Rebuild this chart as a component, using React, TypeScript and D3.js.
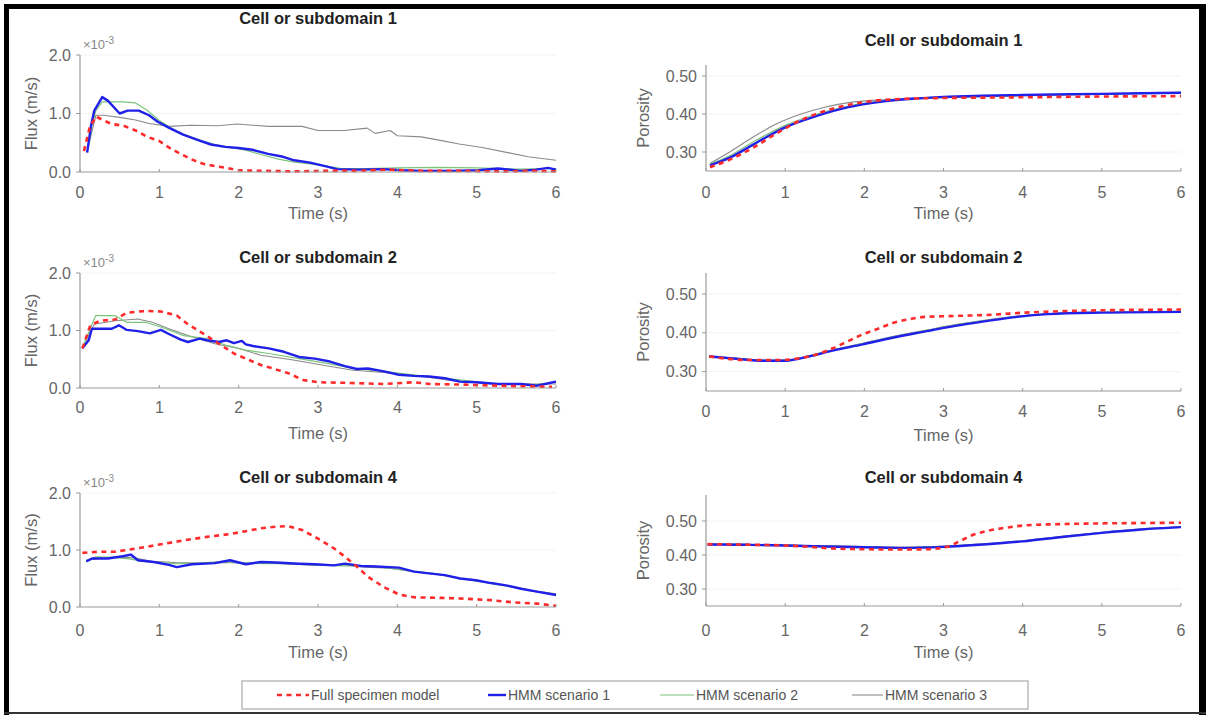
import React from "react";
import * as d3 from "d3";

type P = [number, number];

const seriesNames = ["Full specimen model", "HMM scenario 1", "HMM scenario 2", "HMM scenario 3"];
const panelTitles = ["Cell or subdomain 1", "Cell or subdomain 2", "Cell or subdomain 4"];
const timeTicks = [0, 1, 2, 3, 4, 5, 6];
const fluxTicks = [0, 1, 2];
const fluxTickLabels = ["0.0", "1.0", "2.0"];
const porTicks = [0.3, 0.4, 0.5];
const porTickLabels = ["0.30", "0.40", "0.50"];

// ---------- Flux, cell 1 (x 1e-3 m/s)
const flux1Full: P[] = [[0.05,0.36],[0.12,0.75],[0.2,0.95],[0.3,0.88],[0.4,0.82],[0.55,0.79],[0.7,0.71],[0.85,0.6],[1.0,0.53],[1.12,0.42],[1.25,0.32],[1.4,0.22],[1.55,0.14],[1.7,0.1],[1.85,0.07],[2.0,0.03],[2.3,0.02],[2.7,0.01],[3.1,0.02],[3.5,0.02],[3.9,0.04],[4.3,0.02],[4.8,0.02],[5.3,0.01],[5.7,0.02],[6.0,0.01]];
const flux1H1: P[] = [[0.09,0.33],[0.14,0.8],[0.18,1.05],[0.28,1.28],[0.35,1.22],[0.5,1.0],[0.6,1.05],[0.74,1.05],[0.87,0.97],[0.98,0.86],[1.13,0.75],[1.3,0.64],[1.48,0.55],[1.65,0.47],[1.83,0.43],[2.0,0.41],[2.17,0.38],[2.37,0.31],[2.56,0.26],[2.7,0.2],[2.9,0.16],[3.09,0.1],[3.24,0.05],[3.5,0.04],[3.82,0.05],[4.05,0.03],[4.3,0.02],[4.7,0.02],[5.02,0.03],[5.27,0.06],[5.56,0.02],[5.75,0.04],[5.9,0.07],[6.0,0.04]];
const flux1H2: P[] = [[0.09,0.35],[0.15,0.8],[0.2,1.05],[0.28,1.2],[0.4,1.2],[0.55,1.2],[0.7,1.18],[0.85,1.05],[1.0,0.88],[1.15,0.75],[1.3,0.65],[1.5,0.55],[1.7,0.47],[1.9,0.42],[2.1,0.37],[2.3,0.29],[2.5,0.22],[2.7,0.17],[2.9,0.14],[3.1,0.1],[3.3,0.06],[3.6,0.06],[4.0,0.07],[4.5,0.08],[5.0,0.07],[5.5,0.05],[6.0,0.06]];
const flux1H3: P[] = [[0.09,0.35],[0.2,0.97],[0.3,0.97],[0.52,0.93],[0.7,0.89],[0.87,0.83],[1.13,0.78],[1.39,0.8],[1.74,0.79],[1.98,0.82],[2.37,0.78],[2.8,0.78],[3.0,0.71],[3.33,0.71],[3.62,0.75],[3.72,0.66],[3.91,0.71],[4.0,0.62],[4.3,0.6],[4.54,0.54],[4.78,0.48],[5.07,0.42],[5.36,0.34],[5.65,0.26],[6.0,0.2]];

// ---------- Porosity, cell 1
const por1Full: P[] = [[0.05,0.26],[0.3,0.28],[0.6,0.312],[0.9,0.35],[1.2,0.384],[1.5,0.408],[1.8,0.424],[2.1,0.434],[2.5,0.44],[3.0,0.442],[4.0,0.444],[5.0,0.446],[6.0,0.447]];
const por1H1: P[] = [[0.05,0.265],[0.3,0.285],[0.6,0.32],[1.0,0.365],[1.4,0.395],[1.8,0.418],[2.2,0.432],[2.6,0.44],[3.0,0.445],[3.5,0.448],[4.0,0.45],[5.0,0.453],[6.0,0.456]];
const por1H2: P[] = [[0.05,0.268],[0.3,0.29],[0.6,0.327],[1.0,0.37],[1.4,0.4],[1.8,0.421],[2.2,0.434],[2.6,0.441],[3.0,0.445],[4.0,0.449],[5.0,0.453],[6.0,0.457]];
const por1H3: P[] = [[0.05,0.27],[0.3,0.3],[0.6,0.34],[0.9,0.375],[1.2,0.4],[1.5,0.418],[1.8,0.43],[2.2,0.437],[2.6,0.44],[3.0,0.443],[4.0,0.448],[5.0,0.452],[6.0,0.455]];

// ---------- Flux, cell 2
const flux2Full: P[] = [[0.03,0.69],[0.13,1.09],[0.25,1.17],[0.44,1.19],[0.59,1.31],[0.83,1.34],[1.02,1.33],[1.22,1.26],[1.36,1.11],[1.56,0.94],[1.75,0.77],[1.94,0.6],[2.09,0.51],[2.28,0.4],[2.43,0.34],[2.62,0.26],[2.81,0.14],[3.0,0.1],[3.34,0.09],[3.83,0.07],[4.21,0.1],[4.4,0.07],[4.79,0.06],[5.27,0.04],[5.95,0.02]];
const flux2H1: P[] = [[0.03,0.69],[0.11,0.83],[0.15,1.03],[0.4,1.03],[0.49,1.09],[0.59,1.01],[0.73,0.99],[0.88,0.95],[1.02,1.01],[1.12,0.94],[1.27,0.84],[1.36,0.8],[1.51,0.86],[1.6,0.83],[1.75,0.8],[1.85,0.83],[1.94,0.78],[2.04,0.82],[2.09,0.76],[2.18,0.73],[2.38,0.69],[2.57,0.63],[2.76,0.54],[2.96,0.51],[3.15,0.46],[3.34,0.38],[3.49,0.33],[3.63,0.34],[3.83,0.29],[4.02,0.23],[4.21,0.21],[4.4,0.2],[4.6,0.17],[4.79,0.11],[4.99,0.1],[5.27,0.07],[5.56,0.07],[5.76,0.04],[5.86,0.07],[6.0,0.11]];
const flux2H2: P[] = [[0.03,0.69],[0.15,1.11],[0.2,1.26],[0.44,1.26],[0.59,1.14],[0.83,1.14],[1.02,1.06],[1.31,0.91],[1.6,0.86],[1.85,0.74],[2.09,0.66],[2.38,0.6],[2.76,0.51],[3.15,0.42],[3.44,0.34],[3.83,0.29],[4.31,0.21],[4.79,0.14],[5.27,0.07],[5.76,0.06],[6.0,0.1]];
const flux2H3: P[] = [[0.03,0.69],[0.18,1.11],[0.44,1.17],[0.73,1.2],[0.92,1.14],[1.12,1.03],[1.41,0.89],[1.7,0.77],[1.99,0.69],[2.28,0.57],[2.67,0.49],[3.05,0.4],[3.44,0.31],[3.83,0.27],[4.31,0.2],[4.79,0.11],[5.27,0.07],[6.0,0.07]];

// ---------- Porosity, cell 2
const por2Full: P[] = [[0.04,0.339],[0.52,0.33],[0.91,0.33],[1.3,0.339],[1.6,0.36],[1.79,0.378],[1.98,0.396],[2.18,0.411],[2.37,0.426],[2.57,0.435],[2.76,0.441],[3.05,0.443],[3.54,0.446],[4.03,0.452],[4.52,0.456],[5.0,0.458],[6.0,0.46]];
const por2H1: P[] = [[0.04,0.339],[0.38,0.333],[0.72,0.328],[1.01,0.328],[1.3,0.339],[1.6,0.354],[1.98,0.37],[2.37,0.388],[2.76,0.403],[3.15,0.418],[3.54,0.43],[3.93,0.441],[4.32,0.448],[5.0,0.452],[6.0,0.454]];
const por2H2: P[] = [[0.04,0.34],[0.38,0.334],[0.72,0.329],[1.01,0.329],[1.3,0.34],[1.6,0.355],[1.98,0.372],[2.37,0.39],[2.76,0.405],[3.15,0.42],[3.54,0.432],[3.93,0.442],[4.32,0.449],[5.0,0.453],[6.0,0.455]];
const por2H3: P[] = [[0.04,0.34],[0.38,0.334],[0.72,0.33],[1.01,0.33],[1.3,0.341],[1.6,0.356],[1.98,0.373],[2.37,0.391],[2.76,0.406],[3.15,0.421],[3.54,0.433],[3.93,0.443],[4.32,0.449],[5.0,0.453],[6.0,0.455]];

// ---------- Flux, cell 4
const flux4Full: P[] = [[0.03,0.95],[0.25,0.97],[0.44,0.97],[0.73,1.03],[1.02,1.1],[1.31,1.17],[1.6,1.23],[1.89,1.28],[2.09,1.33],[2.28,1.38],[2.47,1.41],[2.62,1.42],[2.8,1.35],[3.0,1.2],[3.2,1.03],[3.34,0.88],[3.49,0.71],[3.63,0.53],[3.83,0.35],[4.02,0.22],[4.21,0.17],[4.55,0.16],[4.79,0.15],[5.18,0.12],[5.47,0.08],[5.76,0.06],[6.0,0.02]];
const flux4H1: P[] = [[0.08,0.8],[0.15,0.85],[0.35,0.85],[0.54,0.89],[0.64,0.92],[0.73,0.82],[0.93,0.79],[1.12,0.74],[1.22,0.7],[1.41,0.75],[1.7,0.77],[1.89,0.82],[2.09,0.75],[2.28,0.79],[2.47,0.78],[2.76,0.76],[2.96,0.75],[3.2,0.73],[3.34,0.76],[3.54,0.72],[3.73,0.71],[4.02,0.69],[4.21,0.62],[4.4,0.59],[4.6,0.56],[4.79,0.5],[4.99,0.47],[5.18,0.42],[5.37,0.38],[5.56,0.32],[5.76,0.27],[6.0,0.21]];
const flux4H2: P[] = [[0.08,0.8],[0.2,0.88],[0.4,0.87],[0.6,0.85],[0.8,0.8],[1.0,0.78],[1.2,0.76],[1.5,0.77],[1.8,0.8],[2.0,0.78],[2.3,0.76],[2.6,0.76],[3.0,0.74],[3.3,0.72],[3.6,0.72],[3.9,0.68],[4.2,0.63],[4.5,0.58],[4.8,0.5],[5.1,0.43],[5.4,0.36],[5.7,0.28],[6.0,0.22]];
const flux4H3: P[] = [[0.08,0.82],[0.25,0.85],[0.5,0.88],[0.7,0.86],[0.9,0.8],[1.2,0.78],[1.5,0.77],[1.8,0.78],[2.1,0.77],[2.4,0.77],[2.7,0.75],[3.0,0.73],[3.3,0.74],[3.6,0.7],[3.9,0.68],[4.2,0.62],[4.5,0.57],[4.8,0.5],[5.1,0.44],[5.4,0.37],[5.7,0.29],[6.0,0.23]];

// ---------- Porosity, cell 4
const por4Full: P[] = [[0.02,0.432],[0.6,0.43],[1.0,0.428],[1.3,0.424],[1.6,0.419],[2.0,0.417],[2.4,0.416],[2.8,0.417],[3.05,0.424],[3.2,0.44],[3.34,0.456],[3.54,0.47],[3.78,0.48],[4.02,0.487],[4.5,0.491],[5.0,0.493],[5.5,0.494],[6.0,0.495]];
const por4H1: P[] = [[0.02,0.431],[0.5,0.43],[1.0,0.428],[1.5,0.425],[2.0,0.423],[2.5,0.421],[3.0,0.424],[3.5,0.431],[4.0,0.44],[4.5,0.453],[5.0,0.465],[5.5,0.475],[6.0,0.482]];
const por4H2: P[] = [[0.02,0.432],[0.5,0.431],[1.0,0.429],[1.5,0.426],[2.0,0.424],[2.5,0.422],[3.0,0.425],[3.5,0.432],[4.0,0.441],[4.5,0.454],[5.0,0.466],[5.5,0.476],[6.0,0.483]];
const por4H3: P[] = [[0.02,0.433],[0.5,0.431],[1.0,0.429],[1.5,0.427],[2.0,0.425],[2.5,0.423],[3.0,0.426],[3.5,0.433],[4.0,0.442],[4.5,0.455],[5.0,0.467],[5.5,0.477],[6.0,0.484]];

// ---------- layout (pixels)
const W = 1206, H = 715;
const leftX: [number, number] = [80, 556];
const rightX: [number, number] = [706, 1181];

type Panel = {
  title: string; kind: "flux" | "por"; xr: [number, number];
  y0: number; yTopVal: number; yBase: number; yTopPx: number; axisTop: number;
  titleY: number; tickY: number; labelY: number; data: P[][];
};

const panels: Panel[] = [
  { title: panelTitles[0], kind: "flux", xr: leftX, y0: 0, yTopVal: 2, yBase: 172, yTopPx: 55, axisTop: 55, titleY: 24, tickY: 198, labelY: 219, data: [flux1Full, flux1H1, flux1H2, flux1H3] },
  { title: panelTitles[1], kind: "flux", xr: leftX, y0: 0, yTopVal: 2, yBase: 388, yTopPx: 273, axisTop: 273, titleY: 263, tickY: 413, labelY: 439, data: [flux2Full, flux2H1, flux2H2, flux2H3] },
  { title: panelTitles[2], kind: "flux", xr: leftX, y0: 0, yTopVal: 2, yBase: 607, yTopPx: 493, axisTop: 493, titleY: 483, tickY: 636, labelY: 658, data: [flux4Full, flux4H1, flux4H2, flux4H3] },
  { title: panelTitles[0], kind: "por", xr: rightX, y0: 0.25, yTopVal: 0.5, yBase: 171, yTopPx: 76, axisTop: 65, titleY: 46, tickY: 198, labelY: 219, data: [por1Full, por1H1, por1H2, por1H3] },
  { title: panelTitles[1], kind: "por", xr: rightX, y0: 0.25, yTopVal: 0.5, yBase: 391, yTopPx: 294, axisTop: 273, titleY: 263, tickY: 417, labelY: 441, data: [por2Full, por2H1, por2H2, por2H3] },
  { title: panelTitles[2], kind: "por", xr: rightX, y0: 0.25, yTopVal: 0.5, yBase: 606, yTopPx: 521, axisTop: 495, titleY: 483, tickY: 636, labelY: 658, data: [por4Full, por4H1, por4H2, por4H3] },
];

const seriesStyle = [
  { stroke: "#ff2b2b", width: 2.6, dash: "5,4.5" },
  { stroke: "#2020e8", width: 2.4, dash: "" },
  { stroke: "#7cc47c", width: 1.2, dash: "" },
  { stroke: "#8a8a8a", width: 1.1, dash: "" },
];

const FONT = "'Liberation Sans', Arial, Helvetica, sans-serif";
const axisCol = "#9a9a9a";
const textCol = "#666";

function PanelView({ p }: { p: Panel }) {
  const x = d3.scaleLinear().domain([0, 6]).range(p.xr);
  const y = d3.scaleLinear().domain([p.y0, p.yTopVal]).range([p.yBase, p.yTopPx]);
  const line = d3.line<P>()
    .x((d) => x(d[0]))
    .y((d) => y(d[1]))
    .curve(p.kind === "por" ? d3.curveMonotoneX : d3.curveLinear);
  const yt = p.kind === "flux" ? fluxTicks : porTicks;
  const ytl = p.kind === "flux" ? fluxTickLabels : porTickLabels;
  const cx = (p.xr[0] + p.xr[1]) / 2;
  const order = [3, 2, 1, 0];
  return (
    <g>
      {yt.map((v, i) => (
        i > 0 || p.kind === "por" ? <line key={"g" + i} x1={p.xr[0]} x2={p.xr[1]} y1={y(v)} y2={y(v)} stroke="#f3f3f3" strokeWidth={1} /> : null
      ))}
      <text x={cx} y={p.titleY} textAnchor="middle" fontFamily={FONT} fontWeight="bold" fontSize={16.5} fill="#222">{p.title}</text>
      {order.map((si) => (
        <path key={si} d={line(p.data[si]) || ""} fill="none" stroke={seriesStyle[si].stroke}
          strokeWidth={seriesStyle[si].width} strokeDasharray={seriesStyle[si].dash || undefined}
          strokeLinejoin="round" />
      ))}
      <line x1={p.xr[0]} x2={p.xr[1]} y1={p.yBase} y2={p.yBase} stroke={axisCol} strokeWidth={1.2} />
      <line x1={p.xr[0]} x2={p.xr[0]} y1={p.yBase} y2={p.axisTop} stroke={axisCol} strokeWidth={1.2} />
      {timeTicks.map((t) => (
        <g key={"xt" + t}>
          <line x1={x(t)} x2={x(t)} y1={p.yBase} y2={p.yBase - 3} stroke={axisCol} />
          <text x={x(t)} y={p.tickY} textAnchor="middle" fontFamily={FONT} fontSize={16} fill={textCol}>{t}</text>
        </g>
      ))}
      {yt.map((v, i) => (
        <g key={"yt" + i}>
          <line x1={p.xr[0]} x2={p.xr[0] - 4} y1={y(v)} y2={y(v)} stroke={axisCol} />
          <text x={p.xr[0] - 9} y={y(v) + 5.5} textAnchor="end" fontFamily={FONT} fontSize={16} fill={textCol}>{ytl[i]}</text>
        </g>
      ))}
      <text x={cx} y={p.labelY} textAnchor="middle" fontFamily={FONT} fontSize={16.5} fill={textCol}>Time (s)</text>
      {p.kind === "flux" ? (
        <>
          <text transform={`translate(${p.xr[0] - 43},${(p.yBase + p.yTopPx) / 2}) rotate(-90)`} textAnchor="middle" fontFamily={FONT} fontSize={16.5} fill={textCol}>Flux (m/s)</text>
          <text x={p.xr[0] + 3} y={p.yTopPx - 6} fontFamily={FONT} fontSize={13} fill="#888">
            ×10<tspan dy={-5} fontSize={10}>-3</tspan>
          </text>
        </>
      ) : (
        <text transform={`translate(${p.xr[0] - 57},${(p.yBase + p.axisTop) / 2}) rotate(-90)`} textAnchor="middle" fontFamily={FONT} fontSize={16.5} fill={textCol}>Porosity</text>
      )}
    </g>
  );
}

const legendItems = [
  { lx: 277, tx: 311 },
  { lx: 488, tx: 508 },
  { lx: 660, tx: 696 },
  { lx: 852, tx: 885 },
];

export default function App() {
  return (
    <svg width={W} height={H} style={{ position: "absolute", left: 0, top: 0, background: "#fff" }}>
      <rect x={0} y={0} width={W} height={H} fill="#fff" />
      {/* frame */}
      <rect x={4} y={4} width={5} height={711} fill="#000" />
      <rect x={4} y={4} width={1202} height={5} fill="#000" />
      <rect x={1199} y={4} width={7} height={711} fill="#000" />
      <rect x={4} y={712} width={1202} height={2} fill="#333" />
      {panels.map((p, i) => <PanelView key={i} p={p} />)}
      <rect x={242} y={681} width={786} height={28} fill="#fff" stroke="#aaa" strokeWidth={1.2} />
      {legendItems.map((it, i) => (
        <g key={i}>
          <line x1={it.lx} x2={it.tx - 2} y1={695} y2={695} stroke={seriesStyle[i].stroke}
            strokeWidth={seriesStyle[i].width} strokeDasharray={seriesStyle[i].dash || undefined} />
          <text x={it.tx} y={700} fontFamily={FONT} fontSize={14} fill="#555">{seriesNames[i]}</text>
        </g>
      ))}
    </svg>
  );
}
